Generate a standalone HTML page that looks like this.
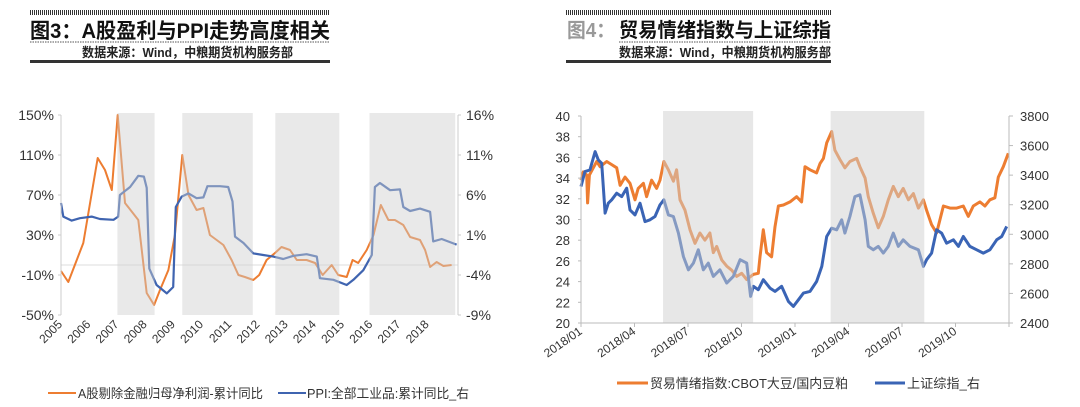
<!DOCTYPE html>
<html><head><meta charset="utf-8">
<style>
html,body{margin:0;padding:0;background:#fff;}
svg{display:block;font-family:"Liberation Sans","Noto Sans CJK SC",sans-serif;}
</style></head>
<body>
<svg id="root" width="1080" height="407" viewBox="0 0 1080 407" xmlns="http://www.w3.org/2000/svg">
<defs>
<pattern id="hatch" width="2" height="6" patternUnits="userSpaceOnUse"><rect x="0" y="0" width="1" height="6" fill="#333"/></pattern>
</defs>
<!-- Left header -->
<g>
<rect x="30" y="10" width="300" height="5" fill="url(#hatch)"/>
<text x="30" y="38" font-size="21" font-weight="bold" fill="#111" textLength="300" lengthAdjust="spacingAndGlyphs">图3：A股盈利与PPI走势高度相关</text>
<line x1="30" y1="42" x2="330" y2="42" stroke="#555" stroke-dasharray="1.5,1"/>
<text x="82" y="57" font-size="13" font-weight="bold" fill="#222" textLength="211" lengthAdjust="spacingAndGlyphs">数据来源：Wind，中粮期货机构服务部</text>
<rect x="30" y="60" width="300" height="3" fill="#333"/>
</g>
<!-- Right header -->
<g>
<rect x="566" y="10" width="265" height="5" fill="url(#hatch)"/>
<text x="567" y="37" font-size="20" font-weight="bold" fill="#999" textLength="48" lengthAdjust="spacingAndGlyphs">图4：</text>
<text x="619" y="37" font-size="20" font-weight="bold" fill="#111" textLength="212" lengthAdjust="spacingAndGlyphs">贸易情绪指数与上证综指</text>
<line x1="619" y1="42" x2="831" y2="42" stroke="#555" stroke-dasharray="1.5,1"/>
<text x="619" y="57" font-size="13" font-weight="bold" fill="#222" textLength="212" lengthAdjust="spacingAndGlyphs">数据来源：Wind，中粮期货机构服务部</text>
<rect x="566" y="60" width="265" height="3" fill="#333"/>
</g>
<g id="chartL"></g>
<g id="chartR"></g>
</svg>
<script>
// ---------- Left chart data ----------
const lYearLabels = ["2005","2006","2007","2008","2009","2010","2011","2012","2013","2014","2015","2016","2017","2018"];
const lLeftTicks = [150,110,70,30,-10,-50];
const lRightTicks = [16,11,6,1,-4,-9];
const lShadeStart = [2007.0, 2009.3, 2012.6, 2015.94];
const lShadeEnd = [2008.32, 2011.8, 2014.87, 2018.98];
const profitX = [2005.0,2005.26,2005.79,2006.30,2006.56,2006.80,2007.01,2007.27,2007.74,2008.04,2008.30,2008.51,2008.81,2009.04,2009.30,2009.52,2009.81,2010.05,2010.28,2010.76,2011.05,2011.29,2011.52,2011.82,2012.03,2012.29,2012.59,2012.82,2013.12,2013.36,2013.71,2014.01,2014.28,2014.60,2014.83,2015.13,2015.34,2015.54,2015.84,2016.08,2016.34,2016.61,2016.84,2017.14,2017.38,2017.73,2017.91,2018.09,2018.32,2018.56,2018.85];
const profitY = [-6,-17,22,107,95,75,150,62,45,-28,-40,-25,-5,30,110,70,55,57,30,20,5,-10,-12,-15,-10,5,12,18,15,5,5,2,-10,0,-10,-12,5,2,15,30,60,45,45,40,28,25,15,-2,3,-1,0];
const ppiX = [2005.0,2005.08,2005.38,2005.67,2006.09,2006.38,2006.86,2007.03,2007.09,2007.45,2007.74,2007.94,2008.04,2008.13,2008.39,2008.75,2008.98,2009.07,2009.28,2009.52,2009.81,2010.05,2010.19,2010.64,2010.93,2011.08,2011.17,2011.47,2011.82,2012.17,2012.53,2012.88,2013.24,2013.71,2014.07,2014.18,2014.66,2015.13,2015.37,2015.72,2016.02,2016.13,2016.31,2016.67,2017.02,2017.14,2017.38,2017.73,2018.09,2018.20,2018.50,2019.03];
const ppiY = [5.0,3.3,2.8,3.1,3.3,3.0,2.9,3.3,6.0,7.0,8.4,8.3,6.9,-3.2,-5.25,-6.3,-5.5,4.5,5.8,6.2,5.6,5.7,7.1,7.1,7.0,5.2,0.8,0.0,-1.3,-1.5,-1.7,-2.0,-1.6,-1.4,-1.7,-4.4,-4.6,-5.25,-4.6,-3.4,-1.5,7.0,7.5,6.6,6.7,4.5,4.0,4.3,3.9,0.2,0.5,-0.2];

// ---------- Right chart data ----------
const rDateLabels = ["2018/01","2018/04","2018/07","2018/10","2019/01","2019/04","2019/07","2019/10"];
const rLeftTicks = [40,38,36,34,32,30,28,26,24,22,20];
const rRightTicks = [3800,3600,3400,3200,3000,2800,2600,2400];
const rShadeStart = [4.6, 14.0];
const rShadeEnd = [9.65, 19.25];
const tradeX = [0,.13,.32,.37,.47,.69,.88,1.07,1.44,1.72,2.0,2.19,2.47,2.75,3.03,3.21,3.5,3.68,3.96,4.24,4.43,4.65,4.9,5.18,5.36,5.55,5.83,6.11,6.39,6.67,6.95,7.23,7.42,7.61,7.89,8.17,8.45,8.73,9.01,9.29,9.66,9.94,10.04,10.22,10.41,10.69,10.88,11.07,11.35,11.72,12.09,12.37,12.56,12.84,13.21,13.4,13.59,13.78,14.06,14.24,14.52,14.8,15.08,15.46,15.64,15.93,16.11,16.39,16.67,16.95,17.23,17.51,17.79,18.07,18.36,18.64,18.92,19.2,19.38,19.66,19.94,20.13,20.32,20.69,21.07,21.44,21.72,22.0,22.37,22.65,22.93,23.21,23.4,23.68,23.96];
const tradeY = [33.8,34.6,34.3,31.6,34.3,35.0,35.6,35.1,35.6,35.3,35.0,33.3,34.1,33.5,31.9,33.0,33.5,32.2,33.8,33.0,33.8,35.6,34.8,33.7,34.8,31.9,30.9,29.0,27.7,28.7,28.0,28.7,26.8,27.4,26.1,25.5,25.1,24.5,24.8,24.2,24.7,24.8,26.4,29.0,26.8,26.4,29.3,31.3,31.4,31.7,32.2,31.7,35.1,34.8,34.5,35.4,35.9,37.4,38.5,36.7,35.8,35.0,35.6,35.9,35.1,34.0,32.2,30.6,29.2,30.3,31.9,33.2,32.2,33.0,31.9,32.5,31.1,31.9,30.9,29.5,28.7,30.0,31.3,31.1,31.1,31.3,30.3,31.3,31.7,31.3,31.9,32.1,34.1,35.1,36.4];
const sseX = [0,.22,.5,.79,.97,1.16,1.35,1.53,1.72,2.0,2.28,2.56,2.75,3.03,3.31,3.59,3.87,4.15,4.43,4.65,4.9,5.18,5.46,5.74,6.02,6.3,6.58,6.86,7.14,7.42,7.79,8.17,8.54,8.92,9.29,9.51,9.66,9.94,10.22,10.6,10.88,11.25,11.63,11.91,12.19,12.47,12.84,13.21,13.5,13.78,14.06,14.34,14.62,14.8,15.08,15.36,15.64,15.93,16.11,16.39,16.67,16.95,17.23,17.51,17.79,18.07,18.45,18.92,19.2,19.38,19.66,19.94,20.22,20.5,20.88,21.16,21.44,21.81,22.19,22.56,22.93,23.31,23.59,23.87];
const sseY = [3323,3424,3435,3559,3503,3480,3143,3210,3233,3278,3255,3312,3165,3131,3210,3086,3098,3120,3199,3233,3131,3120,3008,2850,2760,2805,2895,2760,2805,2715,2760,2670,2715,2828,2805,2580,2648,2625,2693,2636,2614,2648,2546,2512,2557,2602,2614,2681,2783,2985,3041,3030,3098,3008,3120,3255,3267,3098,2918,2895,2918,2873,2918,3008,2918,2963,2918,2895,2783,2828,2873,3030,3008,2940,2963,2918,2985,2918,2895,2873,2895,2963,2985,3053];

const NS = "http://www.w3.org/2000/svg";
function mk(parent, tag, attrs, text) {
  const e = document.createElementNS(NS, tag);
  for (const k in attrs) e.setAttribute(k, attrs[k]);
  if (text !== undefined) e.textContent = text;
  parent.appendChild(e);
  return e;
}
function pathD(xs, ys, fx, fy) {
  return xs.map((x, i) => (i ? "L" : "M") + fx(x).toFixed(1) + "," + fy(ys[i]).toFixed(1)).join("");
}

// ---------- Left chart ----------
(function () {
  const g = document.getElementById("chartL");
  const x0 = 61, x1 = 458, yT = 115, yB = 315;
  const xS = v => x0 + (v - 2005) * 28.2;
  const yL = v => yT + (150 - v) * (yB - yT) / 200;
  const yR = v => yT + (16 - v) * (yB - yT) / 25;
  // zero line
  const z = mk(g, "line", {x1: x0, x2: x1, y1: yL(0), y2: yL(0), stroke: "#ddd", "stroke-width": 1});
  
  
  const pl = mk(g, "path", {d: pathD(profitX, profitY, xS, yL), fill: "none", stroke: "#ED7D31", "stroke-width": 2, "stroke-linejoin": "round"});
  
  
  const bl = mk(g, "path", {d: pathD(ppiX, ppiY, xS, yR), fill: "none", stroke: "#3F64B0", "stroke-width": 2.2, "stroke-linejoin": "round"});
  
  
  for (let i = 0; i < lShadeStart.length; i++) {
    const r = mk(g, "rect", {x: xS(lShadeStart[i]), y: 113, width: xS(lShadeEnd[i]) - xS(lShadeStart[i]), height: yB - 113, fill: "#cfcfcf", "fill-opacity": 0.45});
    
    
  }
  // axes
  const la = mk(g, "line", {x1: x0, x2: x0, y1: yT, y2: yB, stroke: "#ccc"});
  
  
  const ra = mk(g, "line", {x1: x1, x2: x1, y1: yT, y2: yB, stroke: "#ccc"});
  
  
  lLeftTicks.forEach(v => {
    const t = mk(g, "text", {x: 54, y: yL(v) + 5, "font-size": 14, fill: "#333", "text-anchor": "end"}, v + "%");
    
    
    mk(g, "line", {x1: x0 - 3, x2: x0, y1: yL(v), y2: yL(v), stroke: "#ccc"});
  });
  lRightTicks.forEach(v => {
    const t = mk(g, "text", {x: 466, y: yR(v) + 5, "font-size": 14, fill: "#333"}, v + "%");
    
    
    mk(g, "line", {x1: x1, x2: x1 + 3, y1: yR(v), y2: yR(v), stroke: "#ccc"});
  });
  lYearLabels.forEach(s => {
    const x = xS(+s) + 2, y = 325;
    const t = mk(g, "text", {x: x, y: y, "font-size": 12, fill: "#333", "text-anchor": "end", transform: "rotate(-45 " + x + " " + y + ")"}, s);
    
    
  });
  // legend
  const lg = mk(g, "g", {});
  
  
  mk(lg, "line", {x1: 48, x2: 76, y1: 393, y2: 393, stroke: "#ED7D31", "stroke-width": 2});
  const t1 = mk(lg, "text", {x: 78, y: 398, "font-size": 13, fill: "#333", textLength: 185, lengthAdjust: "spacingAndGlyphs"}, "A股剔除金融归母净利润-累计同比");
  
  
  mk(lg, "line", {x1: 278, x2: 306, y1: 393, y2: 393, stroke: "#3F64B0", "stroke-width": 2});
  const t2 = mk(lg, "text", {x: 307, y: 398, "font-size": 13, fill: "#333", textLength: 162, lengthAdjust: "spacingAndGlyphs"}, "PPI:全部工业品:累计同比_右");
  
  
})();

// ---------- Right chart ----------
(function () {
  const g = document.getElementById("chartR");
  const x0 = 581, x1 = 1009, yT = 116, yB = 323;
  const xS = m => x0 + m * (x1 - x0) / 24;
  const yL = v => yB - (v - 20) * (yB - yT) / 20;
  const yR = v => yB - (v - 2400) * (yB - yT) / 1400;
  const ol = mk(g, "path", {d: pathD(tradeX, tradeY, xS, yL), fill: "none", stroke: "#ED7D31", "stroke-width": 3, "stroke-linejoin": "round"});
  
  
  const bl = mk(g, "path", {d: pathD(sseX, sseY, xS, yR), fill: "none", stroke: "#3A64B5", "stroke-width": 3, "stroke-linejoin": "round"});
  
  
  for (let i = 0; i < rShadeStart.length; i++) {
    const r = mk(g, "rect", {x: xS(rShadeStart[i]), y: 111, width: xS(rShadeEnd[i]) - xS(rShadeStart[i]), height: yB - 111, fill: "#cfcfcf", "fill-opacity": 0.5});
    
    
  }
  const la = mk(g, "line", {x1: x0, x2: x0, y1: yT, y2: yB, stroke: "#bbb"});
  
  
  const ra = mk(g, "line", {x1: x1, x2: x1, y1: yT, y2: yB, stroke: "#bbb"});
  
  
  const xa = mk(g, "line", {x1: x0, x2: x1, y1: yB, y2: yB, stroke: "#bbb"});
  
  
  rLeftTicks.forEach(v => {
    const t = mk(g, "text", {x: 570, y: yL(v) + 5, "font-size": 13, fill: "#333", "text-anchor": "end"}, v);
    
    
    mk(g, "line", {x1: x0 - 3, x2: x0, y1: yL(v), y2: yL(v), stroke: "#bbb"});
  });
  rRightTicks.forEach(v => {
    const t = mk(g, "text", {x: 1020, y: yR(v) + 5, "font-size": 13, fill: "#333"}, v);
    
    
    mk(g, "line", {x1: x1, x2: x1 + 4, y1: yR(v), y2: yR(v), stroke: "#bbb"});
  });
  rDateLabels.forEach((s, i) => {
    const tx = xS(i * 3);
    mk(g, "line", {x1: tx, x2: tx, y1: yB, y2: yB + 4, stroke: "#bbb"});
    const x = tx + 2, y = 333;
    const t = mk(g, "text", {x: x, y: y, "font-size": 12, fill: "#333", "text-anchor": "end", transform: "rotate(-35 " + x + " " + y + ")"}, s);
    
    
  });
  mk(g, "line", {x1: x1, x2: x1, y1: yB, y2: yB + 4, stroke: "#bbb"});
  const lg = mk(g, "g", {});
  
  
  mk(lg, "line", {x1: 617, x2: 648, y1: 383, y2: 383, stroke: "#ED7D31", "stroke-width": 3});
  const t1 = mk(lg, "text", {x: 650, y: 388, "font-size": 13, fill: "#333", textLength: 198, lengthAdjust: "spacingAndGlyphs"}, "贸易情绪指数:CBOT大豆/国内豆粕");
  
  
  mk(lg, "line", {x1: 875, x2: 905, y1: 383, y2: 383, stroke: "#3A64B5", "stroke-width": 3});
  const t2 = mk(lg, "text", {x: 907, y: 388, "font-size": 13, fill: "#333", textLength: 73, lengthAdjust: "spacingAndGlyphs"}, "上证综指_右");
  
  
})();
</script>
</body></html>
